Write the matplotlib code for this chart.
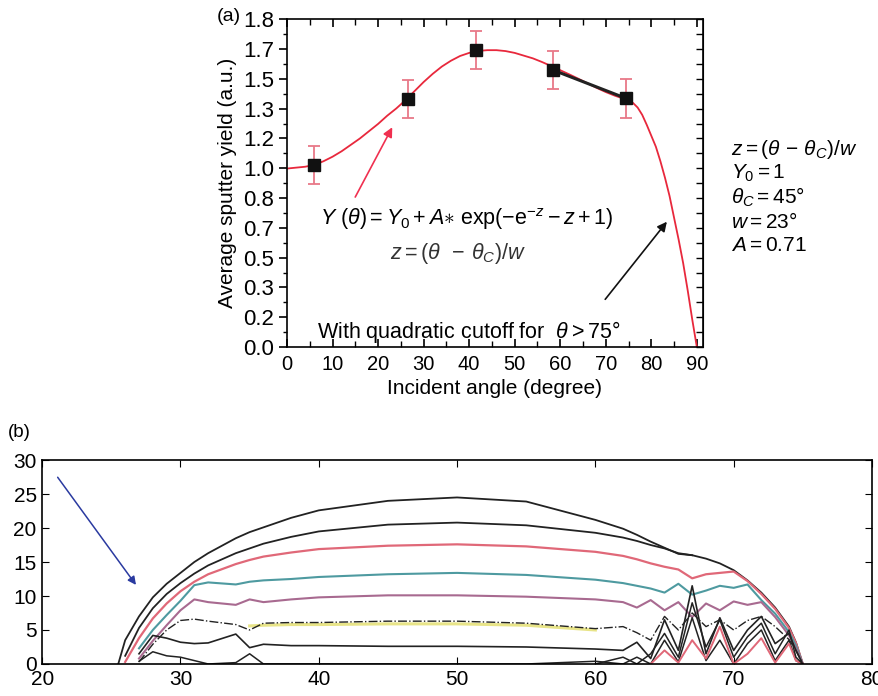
import numpy as np
import matplotlib
matplotlib.use("Agg")
import matplotlib.pyplot as plt

plt.rcParams["font.family"] = ["Liberation Sans", "DejaVu Sans"]
plt.rcParams["mathtext.fontset"] = "custom"
plt.rcParams["mathtext.rm"] = "Liberation Sans"
plt.rcParams["mathtext.it"] = "Liberation Sans:italic"

# panel (a) data
angle = [6, 26.5, 41.5, 58.5, 74.5]
yield_avg = [1.0, 1.36, 1.63, 1.52, 1.365]
yield_err = [0.105, 0.105, 0.105, 0.105, 0.105]

fit_angle = [0, 2, 4, 6, 8, 10, 12, 14, 16, 18, 20, 22, 24, 26, 28, 30, 32, 34, 36, 38,
             40, 42, 44, 46, 48, 50, 52, 54, 56, 58, 60, 62, 64, 66, 68, 70, 72, 74, 75,
             76, 77, 78, 79, 80, 81, 82, 83, 84, 85, 86, 87, 88, 89, 90]
fit_yield = [0.98, 0.985, 0.99, 1.0, 1.02, 1.045, 1.075, 1.11, 1.145, 1.185, 1.225, 1.27,
             1.31, 1.355, 1.405, 1.455, 1.50, 1.54, 1.572, 1.598, 1.615, 1.626, 1.63,
             1.63, 1.625, 1.615, 1.60, 1.585, 1.565, 1.543, 1.52, 1.497, 1.473, 1.448,
             1.423, 1.40, 1.38, 1.363, 1.355, 1.34, 1.315, 1.275, 1.22, 1.16, 1.10, 1.02,
             0.93, 0.83, 0.71, 0.59, 0.46, 0.31, 0.15, 0.0]

ytick_labels = ["0.0", "0.2", "0.3", "0.5", "0.7", "0.8", "1.0", "1.2", "1.3", "1.5", "1.7", "1.8"]
params = [r"$z = (\theta\,-\,\theta_C)/w$", r"$Y_0 = 1$", r"$\theta_C = 45°$",
          r"$w = 23°$", r"$A = 0.71$"]

# panel (b) data
xb = [25, 25.5, 26, 27, 28, 29, 30, 31, 32, 34, 35, 36, 38, 40, 45, 50, 55, 60, 62,
      63, 64, 65, 66, 67, 68, 69, 70, 71, 72, 73, 74, 74.5, 75]
nan = np.nan
c_top = [nan, 0, 3.5, 7.0, 9.8, 11.8, 13.4, 15.0, 16.3, 18.5, 19.4, 20.1, 21.5, 22.6, 24.0,
         24.5, 23.9, 21.2, 19.9, 19.0, 18.0, 17.1, 16.2, 16.0, 15.5, 14.8, 13.8, 12.3,
         10.5, 8.3, 5.5, 3.2, 0]
c_black2 = [nan, nan, 1.2, 5.3, 8.2, 10.3, 11.9, 13.3, 14.5, 16.3, 17.0, 17.7, 18.7, 19.5,
            20.5, 20.8, 20.4, 19.3, 18.6, 18.1, 17.5, 17.0, 16.3, 16.0, nan, nan, nan, nan,
            nan, nan, nan, nan, nan]
c_red = [nan, nan, 0.3, 3.8, 6.7, 8.9, 10.7, 12.1, 13.2, 14.7, 15.3, 15.8, 16.4, 16.9,
         17.4, 17.6, 17.3, 16.5, 15.9, 15.4, 14.8, 14.3, 13.9, 12.6, 13.2, 13.4, 13.6,
         12.2, 10.3, 8.1, 5.3, 3.1, 0]
c_teal = [nan, nan, nan, 2.3, 5.0, 7.2, 9.3, 11.6, 12.0, 11.7, 12.1, 12.3, 12.5, 12.8,
          13.2, 13.4, 13.1, 12.4, 11.9, 11.5, 11.1, 10.5, 11.8, 10.2, 10.8, 11.5, 11.2,
          11.7, 9.4, 7.4, 4.7, 2.7, 0]
c_purple = [nan, nan, nan, 0.8, 3.4, 5.7, 7.9, 9.5, 9.1, 8.7, 9.5, 9.1, 9.5, 9.8, 10.1,
            10.1, 9.9, 9.5, 9.1, 8.3, 9.4, 7.9, 9.1, 6.9, 8.9, 7.9, 9.2, 8.7, 9.1, 6.9,
            4.2, 2.3, 0]
c_dash = [nan, nan, nan, 0.3, 2.9, 5.0, 6.4, 6.6, 6.3, 5.8, 5.0, 6.0, 6.1, 6.1, 6.3, 6.3,
          6.0, 5.2, 5.5, 4.6, 3.5, 7.0, 5.0, 7.5, 5.5, 6.5, 5.0, 6.4, 7.0, 5.5, 3.6, 2.0, 0]
c_black3 = [nan, nan, nan, 1.5, 4.2, 3.8, 3.2, 3.0, 3.1, 4.4, 2.4, 2.9, 2.7, 2.7, 2.6, 2.6,
            2.5, 2.2, 2.0, 3.2, 0.8, 6.5, 2.0, 11.5, 1.5, 6.8, 2.0, 5.0, 7.0, 3.0, 4.5, 2.0, 0]
c_black4 = [nan, nan, nan, 0.4, 1.8, 1.2, 1.0, 0.5, 0.0, 0.2, 1.5, 0.0, 0.0, 0.0, 0.0,
            0.0, 0.0, 0.4, 0.0, 1.0, 0.0, 3.5, 0.3, 6.8, 0.5, 3.5, 0.0, 3.0, 5.0, 0.5, 3.5, 0.5, 0]
c_pink_low = [nan, nan, nan, nan, nan, nan, nan, nan, nan, nan, nan, nan, nan, nan, nan,
              nan, nan, nan, nan, nan, 0.0, 2.0, 0.2, 3.5, 0.8, 5.5, 0.0, 1.5, 3.8, 0.2,
              3.0, 0.5, 0]
c_black5 = [nan, nan, nan, nan, nan, nan, nan, nan, nan, nan, nan, nan, nan, nan, nan,
            nan, nan, 0.0, 1.0, 0.0, 1.5, 4.5, 1.0, 9.0, 2.5, 6.5, 1.0, 4.0, 6.0, 1.5,
            5.0, 1.0, 0]
yellow_x = [35, 36, 38, 40, 45, 50, 55, 60]
yellow_y = [5.6, 5.7, 5.8, 5.8, 5.9, 5.9, 5.7, 5.0]

fig = plt.figure(figsize=(8.79, 6.96), dpi=100)

# ---- panel (a)
ax = fig.add_axes([0.3265, 0.5014, 0.473, 0.471])
ax.plot(fit_angle, fit_yield, color="#e8283c", lw=1.3, zorder=2)
ax.plot(angle[3:], yield_avg[3:], color="#222222", lw=2.2, zorder=3)
ax.errorbar(angle, yield_avg, yerr=yield_err, fmt="none", ecolor="#e87888",
            elinewidth=1.3, capsize=4, capthick=1.3, zorder=4)
ax.plot(angle, yield_avg, "s", color="#111111", ms=8, zorder=5)

ax.set_xlim(0, 91.3)
ax.set_ylim(0, 1.8)
yt = np.linspace(0, 1.8, 12)
ax.set_xticks(range(0, 91, 10))
ax.set_xticks(range(5, 91, 10), minor=True)
ax.set_yticks(yt)
ax.set_yticks((yt[:-1] + yt[1:]) / 2, minor=True)
ax.set_yticklabels(ytick_labels)
ax.tick_params(axis="x", which="major", direction="in", length=6, width=1.2,
               labelsize=14.5, pad=6, top=True)
ax.tick_params(axis="x", which="minor", direction="in", length=4, width=1.0, top=True)
ax.tick_params(axis="y", which="major", direction="out", length=6, width=1.2,
               labelsize=16, pad=3)
ax.tick_params(axis="y", which="minor", direction="out", length=3, width=1.0)
ry = ax.secondary_yaxis("right")
ry.set_yticks(yt)
ry.set_yticks((yt[:-1] + yt[1:]) / 2, minor=True)
ry.tick_params(which="both", direction="in", length=5, width=1.0, labelright=False)
for s in ax.spines.values():
    s.set_linewidth(1.2)
ax.set_xlabel("Incident angle (degree)", fontsize=15, labelpad=3)
ax.set_ylabel("Average sputter yield (a.u.)", fontsize=15, labelpad=5)

ax.annotate("", xy=(23.4, 1.22), xytext=(14.7, 0.81),
            arrowprops=dict(arrowstyle="-|>", color="#f03050", lw=1.2, mutation_scale=14))
ax.annotate("", xy=(83.8, 0.70), xytext=(69.5, 0.25),
            arrowprops=dict(arrowstyle="-|>", color="#111111", lw=1.2, mutation_scale=14))
ax.text(39.5, 0.70, r"$Y\ (\theta) = Y_0 + A{\ast}\ \mathrm{exp}(-\mathrm{e}^{-z} - z + 1)$",
        fontsize=15.5, ha="center", va="center")
ax.text(37.5, 0.515, r"$z = (\theta\ \,-\,\theta_C)/w$", fontsize=15.5, ha="center",
        va="center", color="#333333")
ax.text(40, 0.085, r"With quadratic cutoff for  $\theta > 75°$", fontsize=15.5,
        ha="center", va="center")

fig.text(0.247, 0.977, "(a)", fontsize=14, ha="left", va="center")
for i, p in enumerate(params):
    fig.text(0.832, 0.785 - i * 0.0345, p, fontsize=15, ha="left", va="center")

# ---- panel (b)
bx = fig.add_axes([0.048, 0.046, 0.944, 0.293])
bx.plot(xb, c_top, color="#222222", lw=1.3)
bx.plot(xb, c_black2, color="#222222", lw=1.3)
bx.plot(xb, c_red, color="#e06878", lw=1.6)
bx.plot(xb, c_teal, color="#4e9aa0", lw=1.5)
bx.plot(xb, c_purple, color="#a86a90", lw=1.5)
bx.plot(yellow_x, yellow_y, color="#e8e488", lw=2.2)
bx.plot(xb, c_dash, color="#222222", lw=1.0, ls="-.")
bx.plot(xb, c_black3, color="#222222", lw=1.2)
bx.plot(xb, c_black4, color="#222222", lw=1.1)
bx.plot(xb, c_pink_low, color="#e06878", lw=1.4)
bx.plot(xb, c_black5, color="#222222", lw=1.1)

bx.annotate("", xy=(26.9, 11.3), xytext=(21.0, 27.8),
            arrowprops=dict(arrowstyle="-|>", color="#2a3aa0", lw=1.1, mutation_scale=12))
bx.set_xlim(20, 80)
bx.set_ylim(0, 30)
bx.set_xticks(range(20, 81, 10))
bx.set_yticks(range(0, 31, 5))
bx.tick_params(direction="in", length=5, top=True, right=True, labelsize=15, pad=4)
for s in bx.spines.values():
    s.set_linewidth(1.2)
fig.text(0.009, 0.379, "(b)", fontsize=13.5, ha="left", va="center")

fig.savefig("out.png", dpi=100)
